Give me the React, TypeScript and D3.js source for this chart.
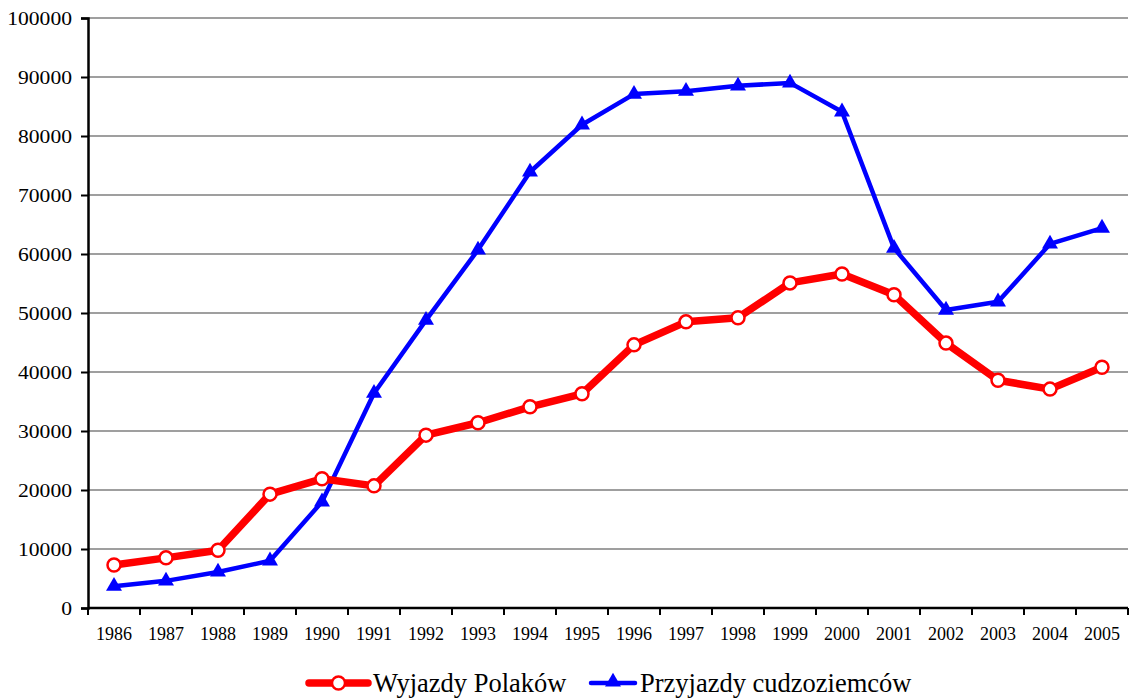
import React, { useRef, useEffect } from 'react'
import * as d3 from 'd3'

const years = ['1986','1987','1988','1989','1990','1991','1992','1993','1994','1995','1996','1997','1998','1999','2000','2001','2002','2003','2004','2005']
const wyjazdy = [7300, 8500, 9800, 19300, 21900, 20700, 29300, 31400, 34100, 36300, 44600, 48500, 49200, 55100, 56600, 53100, 44900, 38600, 37100, 40800]
const przyjazdy = [3700, 4600, 6100, 8000, 18000, 36400, 48800, 60700, 73900, 81900, 87100, 87600, 88500, 89000, 84100, 61000, 50500, 51900, 61700, 64400]
const yTicks = [0, 10000, 20000, 30000, 40000, 50000, 60000, 70000, 80000, 90000, 100000]
const seriesNames = ['Wyjazdy Polaków', 'Przyjazdy cudzoziemców']

export default function App() {
  const svgRef = useRef<SVGSVGElement>(null)
  const width = 1133
  const height = 700

  useEffect(() => {
    const svg = d3.select(svgRef.current)
    svg.selectAll('*').remove()

    const margin = { top: 18, right: 5, bottom: 92, left: 88 }
    const w = width - margin.left - margin.right
    const h = height - margin.top - margin.bottom
    const font = '"Liberation Serif", "Times New Roman", serif'

    const g = svg.append('g').attr('transform', `translate(${margin.left},${margin.top})`)

    const x = d3.scaleBand().domain(years).range([0, w])
    const y = d3.scaleLinear().domain([0, 100000]).range([h, 0])
    const cx = (d: string) => (x(d) as number) + x.bandwidth() / 2

    // grid
    g.append('g')
      .selectAll('line')
      .data(yTicks.filter(t => t > 0))
      .join('line')
      .attr('x1', 0).attr('x2', w)
      .attr('y1', d => y(d)).attr('y2', d => y(d))
      .attr('stroke', '#7f7f7f')
      .attr('stroke-width', 1.5)

    // y axis
    const yAxis = g.append('g')
      .attr('font-family', font)
      .call(d3.axisLeft(y).tickValues(yTicks).tickSize(7).tickPadding(9).tickFormat(d3.format('d')))
    yAxis.attr('font-family', font)
    yAxis.select('.domain').attr('stroke', '#000').attr('stroke-width', 2.5)
    yAxis.selectAll('.tick line').attr('stroke', '#000').attr('stroke-width', 2)
    yAxis.selectAll('.tick text')
      .attr('font-family', font)
      .attr('font-size', 19)
      .attr('fill', '#000')
      .attr('textLength', (d: any) => String(d).length * 10.8)
      .attr('lengthAdjust', 'spacingAndGlyphs')

    // x axis
    const xAxis = g.append('g').attr('transform', `translate(0,${h})`)
    xAxis.append('line')
      .attr('x1', 0).attr('x2', w).attr('y1', 0).attr('y2', 0)
      .attr('stroke', '#000').attr('stroke-width', 2.5)
    xAxis.selectAll('.xtick')
      .data(d3.range(years.length + 1))
      .join('line')
      .attr('class', 'xtick')
      .attr('x1', i => i * x.step()).attr('x2', i => i * x.step())
      .attr('y1', 0).attr('y2', 7)
      .attr('stroke', '#000').attr('stroke-width', 2)
    xAxis.selectAll('.xlab')
      .data(years)
      .join('text')
      .attr('class', 'xlab')
      .attr('x', d => cx(d))
      .attr('y', 32)
      .attr('text-anchor', 'middle')
      .attr('font-family', font)
      .attr('font-size', 18)
      .text(d => d)

    const line = d3.line<number>()
      .x((_, i) => cx(years[i]))
      .y(d => y(d))

    // blue series
    g.append('path')
      .attr('d', line(przyjazdy))
      .attr('fill', 'none')
      .attr('stroke', '#0000ff')
      .attr('stroke-width', 4.5)
      .attr('stroke-linejoin', 'round')
    const tri = d3.symbol().type(d3.symbolTriangle).size(110)
    g.selectAll('.tri')
      .data(przyjazdy)
      .join('path')
      .attr('class', 'tri')
      .attr('d', tri)
      .attr('transform', (d, i) => `translate(${cx(years[i])},${y(d)})`)
      .attr('fill', '#0000ff')

    // red series
    g.append('path')
      .attr('d', line(wyjazdy))
      .attr('fill', 'none')
      .attr('stroke', '#ff0000')
      .attr('stroke-width', 7.5)
      .attr('stroke-linejoin', 'round')
    g.selectAll('.circ')
      .data(wyjazdy)
      .join('circle')
      .attr('class', 'circ')
      .attr('cx', (d, i) => cx(years[i]))
      .attr('cy', d => y(d))
      .attr('r', 6.5)
      .attr('fill', '#fff')
      .attr('stroke', '#ff0000')
      .attr('stroke-width', 2.5)

    // legend
    const leg = svg.append('g').attr('transform', 'translate(0,683)')
    const l1 = leg.append('g').attr('transform', 'translate(309,0)')
    l1.append('line').attr('x1', 0).attr('x2', 59).attr('y1', 0).attr('y2', 0)
      .attr('stroke', '#ff0000').attr('stroke-width', 7.5).attr('stroke-linecap', 'round')
    l1.append('circle').attr('cx', 29.5).attr('cy', 0).attr('r', 6.5)
      .attr('fill', '#fff').attr('stroke', '#ff0000').attr('stroke-width', 2.5)
    l1.append('text').attr('x', 64).attr('y', 9)
      .attr('font-family', font).attr('font-size', 26.5).text(seriesNames[0])

    const l2 = leg.append('g').attr('transform', 'translate(591,0)')
    l2.append('line').attr('x1', 0).attr('x2', 44).attr('y1', 0).attr('y2', 0)
      .attr('stroke', '#0000ff').attr('stroke-width', 4.5).attr('stroke-linecap', 'round')
    l2.append('path').attr('d', tri).attr('transform', 'translate(22,-1)').attr('fill', '#0000ff')
    l2.append('text').attr('x', 49).attr('y', 9)
      .attr('font-family', font).attr('font-size', 26.5).text(seriesNames[1])
  }, [])

  return (
    <svg
      ref={svgRef}
      width={width}
      height={height}
      style={{ position: 'absolute', left: 0, top: 0, background: '#fff' }}
    />
  )
}
